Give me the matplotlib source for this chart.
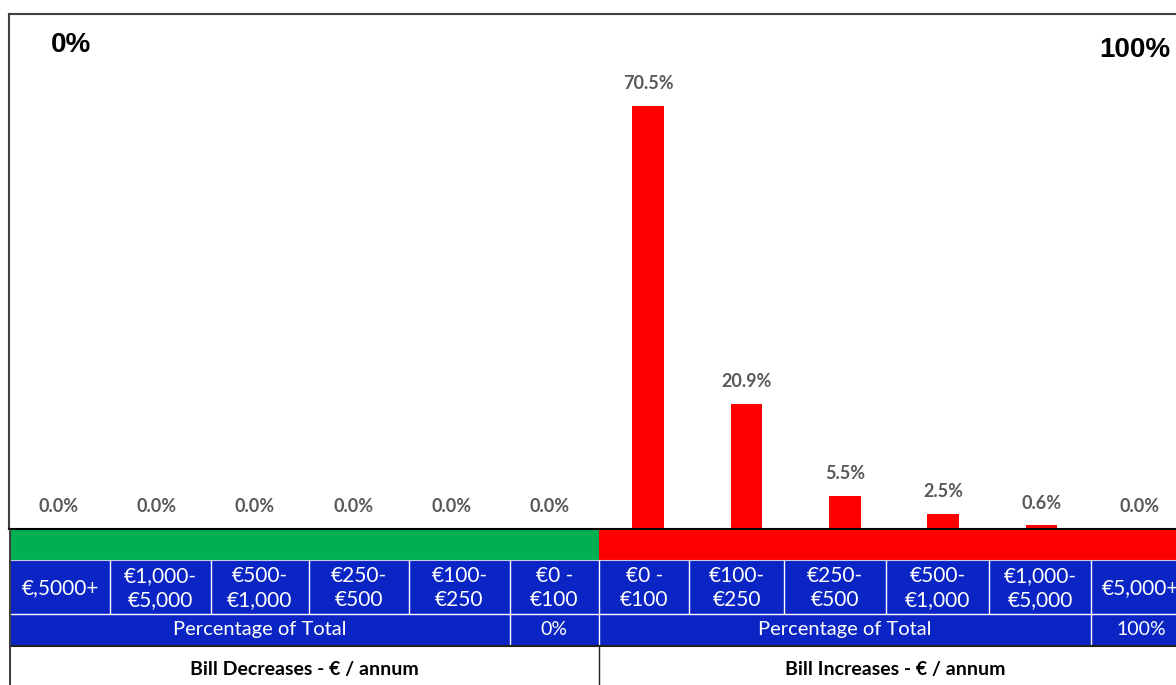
import numpy as np
import matplotlib.pyplot as plt

# bill change bands, largest decrease on the left to largest increase on the right
decrease_bands = ["€,5000+", "€1,000-\n€5,000", "€500-\n€1,000", "€250-\n€500", "€100-\n€250", "€0 -\n€100"]
increase_bands = ["€0 -\n€100", "€100-\n€250", "€250-\n€500", "€500-\n€1,000", "€1,000-\n€5,000", "€5,000+"]
decrease_share = [0.0, 0.0, 0.0, 0.0, 0.0, 0.0]
increase_share = [70.5, 20.9, 5.5, 2.5, 0.6, 0.0]
decrease_total = "0%"
increase_total = "100%"

W, H = 1176, 685
GREEN = "#00B050"
RED = "#FF0000"
BLUE = "#0B24C4"
LABEL_GREY = "#595959"

fig = plt.figure(figsize=(W / 100, H / 100), dpi=100)


def px_axes(x0, y0, x1, y1):
    return fig.add_axes([x0 / W, 1 - y1 / H, (x1 - x0) / W, (y1 - y0) / H])


labels = decrease_bands + increase_bands
shares = decrease_share + increase_share
colors = [GREEN] * len(decrease_bands) + [RED] * len(increase_bands)
x = np.arange(len(labels))

# ---- bars ----
ax = px_axes(9, 14, 1189, 529)
ax.bar(x, shares, width=0.32, color=colors, linewidth=0)
for xi, v in zip(x, shares):
    ax.annotate(f"{v:.1f}%", (xi, v), xytext=(0, 16), textcoords="offset points",
                ha="center", va="center", fontsize=13, fontweight="bold",
                color=LABEL_GREY, family="Lato")
ax.set_xlim(-0.5, len(labels) - 0.5)
ax.set_ylim(0, 85.8)
ax.set_xticks([])
ax.set_yticks([])
ax.spines["right"].set_visible(False)
ax.spines["top"].set_color("#404040")
ax.spines["left"].set_color("#404040")
ax.spines["top"].set_linewidth(1.5)
ax.spines["left"].set_linewidth(1.5)
ax.spines["bottom"].set_linewidth(1.5)

fig.text(71 / W, 1 - 45 / H, decrease_total, ha="center", va="center",
         fontsize=20, fontweight="bold", family="Liberation Sans")
fig.text(1135 / W, 1 - 50 / H, increase_total, ha="center", va="center",
         fontsize=20, fontweight="bold", family="Liberation Sans")

# ---- band table under the bars ----
tb = px_axes(9, 529, 1189, 685)
tb.set_xlim(-0.5, len(labels) - 0.5)
tb.set_ylim(156, 0)
tb.axis("off")

left_edges = [-0.49, 0.53, 1.55, 2.55, 3.57, 4.59, 5.50]
right_edges = [5.50, 6.42, 7.38, 8.42, 9.47, 10.50, 11.52]

# colour strip
tb.fill_between([left_edges[0], 5.5], 1, 31, color=GREEN, linewidth=0)
tb.fill_between([5.5, right_edges[-1]], 1, 31, color=RED, linewidth=0)

# band label row and totals row
tb.fill_between([left_edges[0], right_edges[-1]], 31, 116, color=BLUE, linewidth=0)
row1 = (31, 85)
row2 = (85, 116)
for edges, names in [(left_edges, decrease_bands), (right_edges, increase_bands)]:
    for a, b, name in zip(edges[:-1], edges[1:], names):
        tb.text((a + b) / 2, sum(row1) / 2 + 1, name, ha="center", va="center",
                color="white", fontsize=15, family="Lato", linespacing=1.2)
    tb.vlines(edges[1:-1], row1[0], row1[1], color="white", linewidth=1)

tb.hlines(row1[1], left_edges[0], right_edges[-1], color="white", linewidth=1)
tb.hlines(row1[0], left_edges[0], right_edges[-1], color="#c8cce8", linewidth=0.8)
tb.vlines([left_edges[-2], 5.5, right_edges[-2]], row2[0], row2[1], color="white", linewidth=1)
tb.vlines([5.5], row1[0], row1[1], color="white", linewidth=1)

tb.text((left_edges[0] + left_edges[-2]) / 2, sum(row2) / 2, "Percentage of Total",
        ha="center", va="center", color="white", fontsize=14.5, family="Lato")
tb.text((left_edges[-2] + 5.5) / 2, sum(row2) / 2, decrease_total,
        ha="center", va="center", color="white", fontsize=14, family="Lato")
tb.text((5.5 + right_edges[-2]) / 2, sum(row2) / 2, "Percentage of Total",
        ha="center", va="center", color="white", fontsize=14.5, family="Lato")
tb.text((right_edges[-2] + right_edges[-1]) / 2, sum(row2) / 2, increase_total,
        ha="center", va="center", color="white", fontsize=14, family="Lato")

tb.hlines(116.5, left_edges[0], right_edges[-1], color="#222222", linewidth=1.5)

# direction captions
tb.text((left_edges[0] + 5.5) / 2, 140, "Bill Decreases - € / annum",
        ha="center", va="center", fontsize=14, fontweight="bold", family="Lato")
tb.text((5.5 + right_edges[-1]) / 2, 140, "Bill Increases - € / annum",
        ha="center", va="center", fontsize=14, fontweight="bold", family="Lato")
tb.vlines([5.5], 116.5, 156, color="#222222", linewidth=1)
tb.vlines([left_edges[0]], 0, 156, color="#404040", linewidth=1.5)

fig.savefig("out.png", dpi=100)
